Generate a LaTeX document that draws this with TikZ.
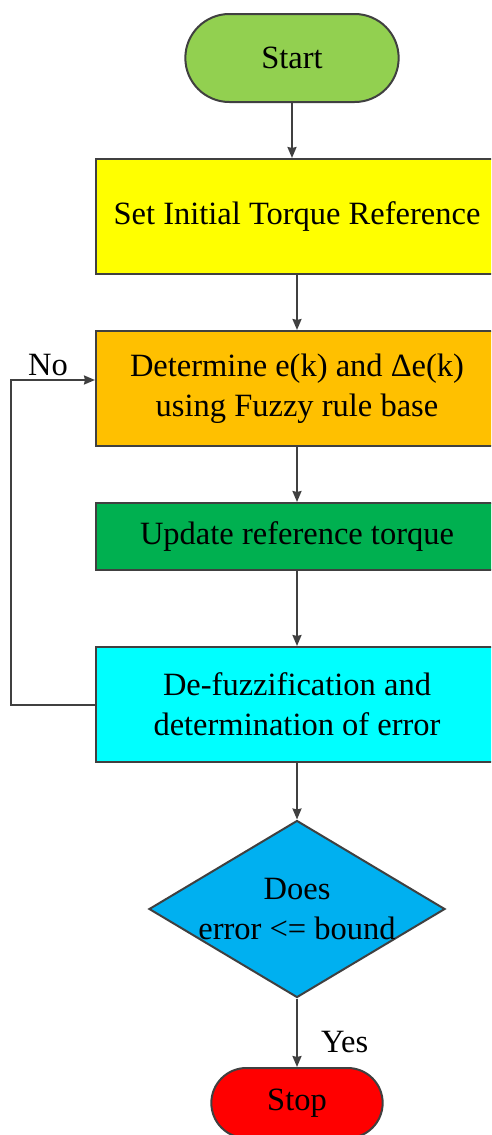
\documentclass[tikz,border=0pt]{standalone}
\usepackage{fontspec}
\setmainfont{Liberation Serif}
\usetikzlibrary{shapes.geometric,shapes.misc,arrows.meta}
\definecolor{startgreen}{HTML}{92D050}
\definecolor{inityellow}{HTML}{FFFF00}
\definecolor{fuzzyorange}{HTML}{FFC000}
\definecolor{updategreen}{HTML}{00B050}
\definecolor{defuzzcyan}{HTML}{00FFFF}
\definecolor{checkblue}{HTML}{00B0F0}
\definecolor{stopred}{HTML}{FF0000}
\definecolor{edgegray}{HTML}{404040}
\begin{document}
\begin{tikzpicture}[x=1pt, y=-1pt, >={Stealth[length=11pt, width=9pt, inset=1pt]},
    every node/.style={font=\fontsize{32.5}{40}\selectfont},
    blk/.style={draw=edgegray, line width=2pt, minimum width=402pt, align=center, inner sep=0pt},
    term/.style={rounded rectangle, draw=edgegray, line width=2pt},
    flow/.style={->, draw=edgegray, line width=2pt},
    lbl/.style={inner sep=3pt}]
            \useasboundingbox (0,0) rectangle (491,1135);
            \clip (0,0) rectangle (491,1135);
            \node[term, fill=startgreen, minimum width=220pt, minimum height=88pt] (start) at (292,58) {Start};
            \node[blk, fill=inityellow, minimum height=115pt] (init) at (297,216.5) {Set Initial Torque Reference};
            \node[blk, fill=fuzzyorange, minimum height=115pt] (fuzzy) at (297,388.5) {Determine e(k) and Δe(k)\\using Fuzzy rule base};
            \node[blk, fill=updategreen, minimum height=67pt] (update) at (297,536.5) {Update reference torque};
            \node[blk, fill=defuzzcyan, minimum height=115pt] (defuzz) at (297,704.5) {De-fuzzification and\\determination of error};
            \node[diamond, draw=edgegray, line width=2pt, fill=checkblue, minimum width=296pt, minimum height=177pt, inner sep=0pt] (check) at (297,909) {};
            \node[align=center] (checktext) at (check) {Does\\error <= bound};
            \node[term, fill=stopred, minimum width=178pt, minimum height=70pt] (stop) at (297,1103) {Stop};
            \draw[flow] (start.south) -- (start.south |- init.north);
            \draw[flow] (init) -- (fuzzy);
            \draw[flow] (fuzzy) -- (update);
            \draw[flow] (update) -- (defuzz);
            \draw[flow] (defuzz) -- (check);
            \draw[flow] (check.south) -- node[lbl, pos=0.79, anchor=base west, xshift=20pt] {Yes} (stop.north);
            \draw[flow] (defuzz.west) -- (11,704.5) |- node[lbl, pos=0.72, above] {No} ([yshift=8.5pt]fuzzy.west);
        \end{tikzpicture}
\end{document}
